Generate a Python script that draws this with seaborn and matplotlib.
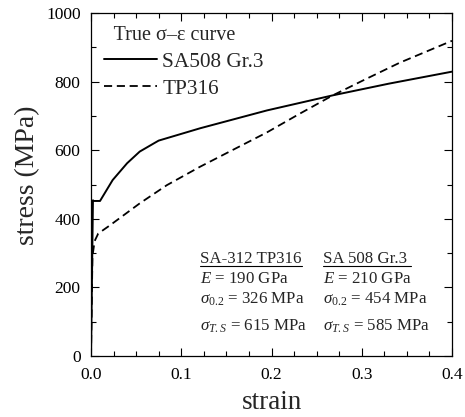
import matplotlib
matplotlib.use("Agg")
import matplotlib.pyplot as plt
import seaborn as sns
import pandas as pd
from matplotlib.ticker import MultipleLocator

# data
sa508_strain = [0.0, 0.00216, 0.003, 0.01, 0.024, 0.040, 0.054, 0.071, 0.075, 0.121, 0.195, 0.268, 0.330, 0.400]
sa508_stress = [0, 454, 452, 452, 513, 562, 596, 622, 628, 664, 716, 760, 794, 829]
tp316_strain = [0.0, 0.0016, 0.004, 0.008, 0.021, 0.054, 0.084, 0.121, 0.158, 0.195, 0.231, 0.268, 0.305, 0.342, 0.400]
tp316_stress = [0, 290, 335, 357, 381, 445, 498, 552, 602, 652, 706, 760, 808, 855, 919]

x_ticks = [0.0, 0.1, 0.2, 0.3, 0.4]
x_ticklabels = ["0.0", "0.1", "0.2", "0.3", "0.4"]
y_ticks = [0, 200, 400, 600, 800, 1000]

col1_title = "SA-312 TP316"
col1_lines = ["$E$ = 190 GPa", r"$\sigma_{\mathit{0.2}}$ = 326 MPa", r"$\sigma_{\mathit{T.S}}$ = 615 MPa"]
col2_title = "SA 508 Gr.3 "
col2_lines = ["$E$ = 210 GPa", r"$\sigma_{\mathit{0.2}}$ = 454 MPa", r"$\sigma_{\mathit{T.S}}$ = 585 MPa"]

sns.set_theme(style="ticks")
plt.rcParams["font.family"] = ["Liberation Serif", "DejaVu Serif"]
plt.rcParams["mathtext.fontset"] = "custom"
plt.rcParams["mathtext.rm"] = "Liberation Serif"
plt.rcParams["mathtext.it"] = "Liberation Serif:italic"
plt.rcParams["mathtext.bf"] = "Liberation Serif:bold"

fig = plt.figure(figsize=(4.65, 4.17), dpi=100)
ax = fig.add_axes([91/465, 1-356/417, (452-91)/465, (356-13)/417])

df1 = pd.DataFrame({"strain": sa508_strain, "stress": sa508_stress})
df2 = pd.DataFrame({"strain": tp316_strain, "stress": tp316_stress})
sns.lineplot(data=df1, x="strain", y="stress", ax=ax, color="black", lw=1.4,
             sort=False, estimator=None, label="SA508 Gr.3")
sns.lineplot(data=df2, x="strain", y="stress", ax=ax, color="black", lw=1.3,
             sort=False, estimator=None, label="TP316", linestyle=(0, (4.5, 2.6)))

ax.set_xlim(0, 0.4)
ax.set_ylim(0, 1000)
ax.set_xticks(x_ticks)
ax.set_xticklabels(x_ticklabels)
ax.set_yticks(y_ticks)
ax.xaxis.set_minor_locator(MultipleLocator(0.025))
ax.yaxis.set_minor_locator(MultipleLocator(100))
ax.tick_params(which="both", direction="in", top=True, right=True, labelsize=12.5,
               colors="black", width=0.8)
ax.tick_params(axis="x", pad=8)
ax.tick_params(axis="y", pad=7.5)
ax.tick_params(which="major", length=6)
ax.tick_params(which="minor", length=3.5)
for s in ax.spines.values():
    s.set_linewidth(0.9)
    s.set_color("black")

ax.set_xlabel("strain", fontsize=19.5, labelpad=5)
ax.set_ylabel("stress (MPa)", fontsize=20)
ax.yaxis.set_label_coords(-0.14, 0.528)

leg = ax.legend(loc="upper left", frameon=False, title="  True σ–ε curve",
                fontsize=15.3, title_fontsize=14.5, handlelength=2.5,
                handletextpad=0.25, borderaxespad=0.2, labelspacing=0.33,
                alignment="left", bbox_to_anchor=(0.0, 1.0))

# annotations
fs = 12.2
ys = [271, 212, 153, 75]
t1 = ax.text(0.1208, ys[0], col1_title, fontsize=fs)
t2 = ax.text(0.257, ys[0], col2_title, fontsize=fs)
for i, (a, b) in enumerate(zip(col1_lines, col2_lines)):
    ax.text(0.1208, ys[i+1], a, fontsize=fs)
    ax.text(0.257, ys[i+1], b, fontsize=fs)

fig.canvas.draw()
inv = ax.transData.inverted()
for t in (t1, t2):
    bb = t.get_window_extent()
    (x0, y0), (x1, y1) = inv.transform([[bb.x0, bb.y0], [bb.x1, bb.y1]])
    ax.plot([x0, x1], [ys[0]-8, ys[0]-8], color="black", lw=0.8)

fig.savefig("out.png", dpi=100)
